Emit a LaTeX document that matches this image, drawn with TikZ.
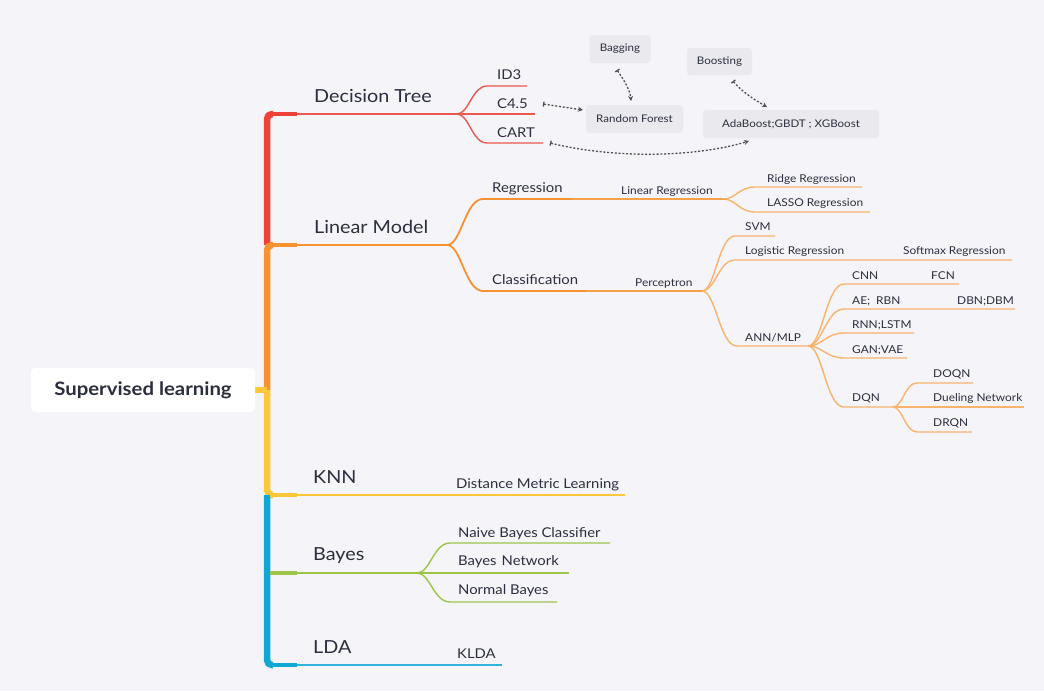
\documentclass[tikz,border=0pt]{standalone}
\usepackage{fontspec}
\setmainfont{Lato}[FakeStretch=1.1]
\usetikzlibrary{arrows.meta}
\definecolor{bg}{RGB}{245,244,249}
\definecolor{txt}{RGB}{43,46,62}
\definecolor{cred}{RGB}{238,66,56}
\definecolor{lred}{RGB}{234,88,80}
\definecolor{corange}{RGB}{246,146,50}
\definecolor{morange}{RGB}{245,160,74}
\definecolor{lorange}{RGB}{248,180,108}
\definecolor{cyellow}{RGB}{252,200,58}
\definecolor{cblue}{RGB}{16,168,210}
\definecolor{lblue}{RGB}{48,178,220}
\definecolor{cgreen}{RGB}{157,197,74}
\definecolor{boxfill}{RGB}{234,234,238}
\definecolor{rel}{RGB}{80,80,90}
\newcommand\mmtwig[6]{%
  \draw[twigline,#1] (#2,#3) .. controls ({#2+0.4*(#4-#2)},#3) and ({#2+0.5*(#4-#2)},#5) .. (#4,#5) -- (#6,#5);}
\begin{document}
\begin{tikzpicture}[x=1pt,y=-1pt,
  lbig/.style={inner sep=0,anchor=base west,text=txt,font=\fontsize{18}{21}\selectfont},
  lmid/.style={inner sep=0,anchor=base west,text=txt,font=\fontsize{13.5}{16}\selectfont},
  lsmall/.style={inner sep=0,anchor=base west,text=txt,font=\fontsize{10.8}{13}\selectfont},
  gbox/.style={fill=boxfill,rounded corners=3pt,inner sep=0,text=txt,font=\fontsize{10.5}{12}\selectfont},
  trunkline/.style={line width=6.5pt,rounded corners=5pt},
  stemline/.style={line width=3.5pt},
  branchline/.style={line width=2pt},
  twigline/.style={line width=1.4pt},
  relarrow/.style={rel,line width=1.3pt,dash pattern=on 2pt off 1.8pt,{Bar[width=5pt]}-{Stealth[length=5pt,width=5pt]}}
]
\useasboundingbox (0,0) rectangle (1044,691);
\fill[bg] (0,0) rectangle (1044,691);

% trunk
\draw[trunkline,cred] (267,245) -- (267,114) -- (273,114);
\draw[trunkline,corange] (267,390) -- (267,245) -- (273,245);
\draw[trunkline,cyellow] (267,390) -- (267,495) -- (273,495);
\draw[trunkline,cblue] (267,495) -- (267,665) -- (273,665);
\draw[line width=5.5pt,cyellow] (255,390) -- (267,390);

% main branches
\draw[stemline,cred] (270,114) -- (297,114);
\draw[branchline,lred] (297,114) -- (457,114);
\draw[stemline,corange] (270,245) -- (297,245);
\draw[branchline,corange] (297,245) -- (447,245);
\draw[stemline,cyellow] (270,495) -- (297,495);
\draw[branchline,cyellow] (297,495) -- (625,495);
\draw[stemline,cgreen] (270,573) -- (297,573);
\draw[branchline,cgreen] (297,573) -- (417,573);
\draw[stemline,cblue] (270,665) -- (297,665);
\draw[branchline,lblue] (297,665) -- (502,665);

% Decision tree twigs
\mmtwig{lred}{457}{114}{487}{86}{527}
\mmtwig{lred}{457}{114}{487}{114}{535}
\mmtwig{lred}{457}{114}{487}{143}{543}

% Linear model
\mmtwig{corange,line width=1.8pt}{447}{245}{483}{199}{572}
\mmtwig{corange,line width=1.8pt}{447}{245}{483}{291}{586}
\draw[twigline,morange] (572,199) -- (723,199);
\draw[twigline,morange] (586,291) -- (702,291);
\mmtwig{lorange}{723}{199}{755}{187}{862}
\mmtwig{lorange}{723}{199}{755}{212}{870}
\mmtwig{lorange}{702}{291}{735}{236}{775}
\mmtwig{lorange}{702}{291}{735}{260}{1012}
\mmtwig{lorange}{702}{291}{737}{346}{808}
\mmtwig{lorange}{808}{346}{844}{284}{959}
\mmtwig{lorange}{808}{346}{844}{309}{1015}
\mmtwig{lorange}{808}{346}{844}{333}{914}
\mmtwig{lorange}{808}{346}{844}{358}{907}
\mmtwig{lorange}{808}{346}{844}{407}{893}
\mmtwig{lorange}{893}{407}{917}{383}{973}
\mmtwig{lorange}{893}{407}{917}{407}{1024}
\mmtwig{lorange}{893}{407}{917}{432}{972}

% Bayes
\mmtwig{cgreen}{417}{573}{450}{543}{610}
\mmtwig{cgreen}{417}{573}{450}{573}{569}
\mmtwig{cgreen}{417}{573}{450}{602}{557}

% root
\node[fill=white,rounded corners=4pt,minimum width=224pt,minimum height=44pt,inner sep=0,text=txt,font=\fontsize{18.5}{21}\selectfont\bfseries] (root) at (143,390) {Supervised learning};

% big labels
\node[lbig] (dt) at (314,102) {Decision Tree};
\node[lbig] (lm) at (314,233) {Linear Model};
\node[lbig] (knn) at (313,483) {KNN};
\node[lbig] (bay) at (313,560) {Bayes};
\node[lbig] (lda) at (313,653) {LDA};

% mid labels
\node[lmid] (id3) at (497,79) {ID3};
\node[lmid] (c45) at (497,108) {C4.5};
\node[lmid] (cart) at (497,137) {CART};
\node[lmid] (reg) at (492,192) {Regression};
\node[lmid] (cls) at (492,284) {Classification};
\node[lmid] (dml) at (456,488) {Distance Metric Learning};
\node[lmid] (nbc) at (458,537) {Naive Bayes Classifier};
\node[lmid] (bn) at (458,565) {Bayes\hspace{5pt}Network};
\node[lmid] (nb) at (458,594) {Normal Bayes};
\node[lmid] (klda) at (457,658) {KLDA};

% small labels
\node[lsmall] (linreg) at (621,194) {Linear Regression};
\node[lsmall] (ridge) at (767,182) {Ridge Regression};
\node[lsmall] (lasso) at (767,206) {LASSO Regression};
\node[lsmall] (svm) at (745,230) {SVM};
\node[lsmall] (logreg) at (745,254) {Logistic Regression};
\node[lsmall] (softmax) at (903,254) {Softmax Regression};
\node[lsmall] (perc) at (635,286) {Perceptron};
\node[lsmall] (ann) at (745,341) {ANN/MLP};
\node[lsmall] (cnn) at (852,279) {CNN};
\node[lsmall] (fcn) at (931,279) {FCN};
\node[lsmall] (ae) at (852,304) {AE;\hspace{6pt}RBN};
\node[lsmall] (dbn) at (957,304) {DBN;DBM};
\node[lsmall] (rnn) at (852,328) {RNN;LSTM};
\node[lsmall] (gan) at (852,353) {GAN;VAE};
\node[lsmall] (dqn) at (852,401) {DQN};
\node[lsmall] (doqn) at (933,377) {DOQN};
\node[lsmall] (duel) at (933,401) {Dueling Network};
\node[lsmall] (drqn) at (933,426) {DRQN};

% grey boxes
\node[gbox,minimum width=61pt,minimum height=28pt] (bag) at (620,49) {Bagging};
\node[gbox,minimum width=65pt,minimum height=27pt] (boost) at (719.5,61.5) {Boosting};
\node[gbox,minimum width=97pt,minimum height=28pt] (rf) at (634.5,119) {Random Forest};
\node[gbox,minimum width=176pt,minimum height=28pt] (ada) at (791,124) {AdaBoost;GBDT ; XGBoost};

% relationships
\coordinate (r1s) at (543,104);
\coordinate (r1e) at (583,110);
\coordinate (r2s) at (617,70);
\coordinate (r2e) at (631,101);
\coordinate (r3s) at (733,81);
\coordinate (r3e) at (767,107);
\coordinate (r4s) at (550,143);
\coordinate (r4e) at (749,141);
\draw[relarrow] (r1s) -- (r1e);
\draw[relarrow] (r2s) .. controls (624,80) and (630,90) .. (r2e);
\draw[relarrow] (r3s) .. controls (742,92) and (755,100) .. (r3e);
\draw[relarrow] (r4s) .. controls (620,160) and (700,156) .. (r4e);
\end{tikzpicture}
\end{document}
